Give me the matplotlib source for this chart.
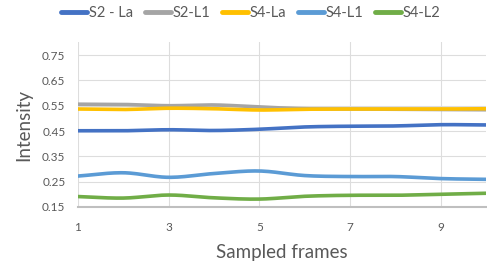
import numpy as np
import matplotlib
matplotlib.use("Agg")
import matplotlib.pyplot as plt

plt.rcParams['font.family'] = ['Lato', 'DejaVu Sans']

frames = [1, 2, 3, 4, 5, 6, 7, 8, 9, 10]
s2_la = [0.451, 0.451, 0.455, 0.452, 0.457, 0.466, 0.469, 0.470, 0.475, 0.474]
s2_l1 = [0.556, 0.555, 0.550, 0.553, 0.545, 0.538, 0.537, 0.536, 0.535, 0.534]
s4_la = [0.537, 0.535, 0.540, 0.538, 0.533, 0.536, 0.537, 0.537, 0.537, 0.538]
s4_l1 = [0.272, 0.285, 0.267, 0.282, 0.292, 0.274, 0.270, 0.270, 0.262, 0.259]
s4_l2 = [0.191, 0.185, 0.197, 0.186, 0.181, 0.192, 0.196, 0.196, 0.200, 0.204]

series_names = ['S2 - La', 'S2-L1', 'S4-La', 'S4-L1', 'S4-L2']
series_vals = [s2_la, s2_l1, s4_la, s4_l1, s4_l2]
colors = ['#4472C4', '#A5A5A5', '#FFC000', '#5B9BD5', '#70AD47']
x_ticks = [1, 3, 5, 7, 9]
y_ticks = [0.15, 0.25, 0.35, 0.45, 0.55, 0.65, 0.75]


def smooth(x, y, n=20):
    # Catmull-Rom spline through the data points (Excel-like smoothed line)
    x = np.asarray(x, float)
    y = np.asarray(y, float)
    px = np.concatenate([[2 * x[0] - x[1]], x, [2 * x[-1] - x[-2]]])
    py = np.concatenate([[2 * y[0] - y[1]], y, [2 * y[-1] - y[-2]]])
    xs, ys = [], []
    t = np.linspace(0, 1, n, endpoint=False)
    for i in range(1, len(px) - 2):
        for p, out in ((px, xs), (py, ys)):
            p0, p1, p2, p3 = p[i - 1], p[i], p[i + 1], p[i + 2]
            out.append(0.5 * ((2 * p1) + (-p0 + p2) * t + (2 * p0 - 5 * p1 + 4 * p2 - p3) * t ** 2
                              + (-p0 + 3 * p1 - 3 * p2 + p3) * t ** 3))
    xs = np.concatenate(xs + [[x[-1]]])
    ys = np.concatenate(ys + [[y[-1]]])
    return xs, ys


fig = plt.figure(figsize=(4.87, 2.67), dpi=100)
ax = fig.add_axes([0.160, 0.225, 0.838, 0.616])

for name, vals, c in zip(series_names, series_vals, colors):
    sx, sy = smooth(frames, vals)
    ax.plot(sx, sy, color=c, lw=2.6, label=name, solid_capstyle='round')

ax.set_xlim(1, 10)
ax.set_ylim(0.15, 0.8)
ax.set_xticks(x_ticks)
ax.set_yticks(y_ticks)
ax.set_yticklabels([f'{v:.2f}' for v in y_ticks])
ax.grid(True, color='#DDDDDD', lw=0.8)
ax.set_axisbelow(True)
for s in ['top', 'right', 'left']:
    ax.spines[s].set_visible(False)
ax.spines['bottom'].set_color('#BFBFBF')
ax.spines['bottom'].set_linewidth(1.5)
ax.tick_params(axis='both', length=0, labelsize=8.5, labelcolor='#595959')
ax.tick_params(axis='x', pad=11)
ax.tick_params(axis='y', pad=9)
ax.set_xlabel('Sampled frames', fontsize=13.5, color='#595959', labelpad=8)
ax.set_ylabel('Intensity', fontsize=13.5, color='#595959', labelpad=7)

leg = fig.legend(loc='center', bbox_to_anchor=(0.515, 0.95), ncol=5, frameon=False,
                 fontsize=10.5, handlelength=1.8, handletextpad=0.1, columnspacing=0.8,
                 labelcolor='#595959')
for h in leg.get_lines():
    h.set_linewidth(3.5)

fig.savefig('out.png', dpi=100)
